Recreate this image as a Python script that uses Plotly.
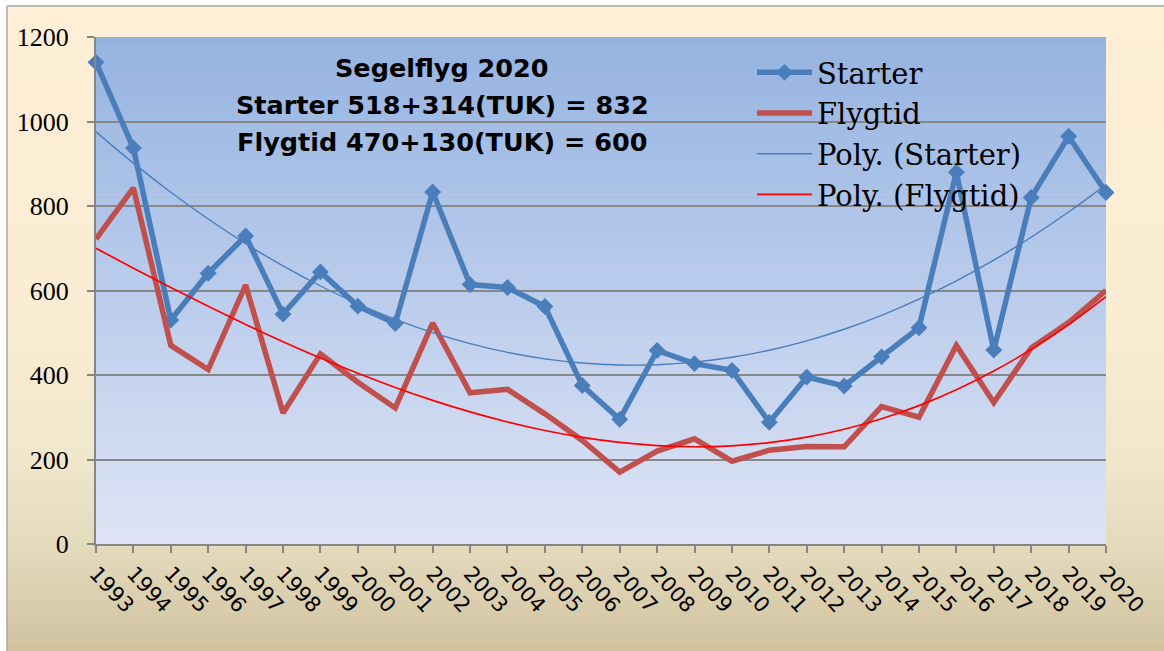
import numpy as np
import plotly.graph_objects as go

years = list(range(1993, 2021))
starter = [1140, 937, 530, 641, 729, 544, 644, 563, 522, 833, 614, 607, 562, 375,
           295, 458, 427, 411, 288, 395, 374, 443, 512, 880, 459, 820, 965, 832]
flygtid = [722, 843, 470, 413, 613, 310, 450, 383, 322, 523, 358, 366, 308, 245,
           170, 220, 249, 196, 222, 231, 230, 325, 300, 470, 335, 464, 524, 600]
tick_labels = [str(y) for y in years]
title_lines = ["Segelflyg 2020", "Starter 518+314(TUK) = 832", "Flygtid 470+130(TUK) = 600"]

# Excel-style polynomial trendlines (least squares fit of the data series)
xi = np.arange(1, len(years) + 1)
poly_starter = np.polyval(np.polyfit(xi, starter, 2), xi)
poly_flyg = np.polyval(np.polyfit(xi, flygtid, 3), xi)

W, H = 1164, 651
PL, PR, PT, PB = 96, 1106, 37, 544   # plot area in page pixels
L, R, T, B = PL, W - PR, PT, H - PB
pw, ph = PR - PL, PB - PT
CX, CY = 7, 6                        # chart-area top-left corner


def px_x(p):   # pixel -> paper x
    return (p - PL) / pw


def px_y(p):   # pixel -> paper y
    return (PB - p) / ph


def lerp_stops(stops, t):
    for (t0, c0), (t1, c1) in zip(stops[:-1], stops[1:]):
        if t0 <= t <= t1:
            f = 0 if t1 == t0 else (t - t0) / (t1 - t0)
            return tuple(round(a + (b - a) * f) for a, b in zip(c0, c1))
    return stops[-1][1]


shapes = []


def gradient(x0, x1, y0, y1, stops, n):
    for i in range(n):
        ta = y0 + (y1 - y0) * i / n
        tb = y0 + (y1 - y0) * (i + 1) / n + 0.6
        c = lerp_stops(stops, (i + 0.5) / n)
        shapes.append(dict(type="rect", xref="paper", yref="paper", layer="below",
                           x0=px_x(x0), x1=px_x(x1), y0=px_y(tb), y1=px_y(ta),
                           line=dict(width=0), fillcolor="rgb(%d,%d,%d)" % c))


outer_stops = [(0.0, (254, 239, 214)), (0.45, (250, 237, 212)), (0.7, (240, 231, 204)),
               (0.85, (226, 216, 186)), (1.0, (208, 194, 159))]
plot_stops = [(0.0, (149, 179, 224)), (0.5, (186, 204, 236)), (1.0, (222, 228, 245))]
gradient(CX, W + 2, CY, H + 2, outer_stops, 110)
gradient(PL, PR, PT, PB, plot_stops, 100)
# chart area border (top and left)
shapes.append(dict(type="line", xref="paper", yref="paper", layer="below",
                   x0=px_x(CX), x1=px_x(W + 2), y0=px_y(CY), y1=px_y(CY),
                   line=dict(color="#A6A6A6", width=1.5)))
shapes.append(dict(type="line", xref="paper", yref="paper", layer="below",
                   x0=px_x(CX), x1=px_x(CX), y0=px_y(CY), y1=px_y(H + 2),
                   line=dict(color="#A6A6A6", width=1.5)))

fig = go.Figure()
fig.add_trace(go.Scatter(x=years, y=starter, name="Starter", mode="lines+markers",
                         line=dict(color="#4A7EBB", width=5.5),
                         marker=dict(symbol="diamond", size=13, color="#4A7EBB"),
                         cliponaxis=False))
fig.add_trace(go.Scatter(x=years, y=flygtid, name="Flygtid", mode="lines",
                         line=dict(color="#C0504D", width=5.5)))
fig.add_trace(go.Scatter(x=years, y=poly_starter, name="Poly. (Starter)", mode="lines",
                         line=dict(color="#4A7EBB", width=1.4, shape="spline")))
fig.add_trace(go.Scatter(x=years, y=poly_flyg, name="Poly. (Flygtid)", mode="lines",
                         line=dict(color="#FF0000", width=1.7, shape="spline")))

annotations = []
for line, yc in zip(title_lines, [68, 105, 142]):
    annotations.append(dict(text="<b>%s</b>" % line, xref="paper", yref="paper",
                            x=px_x(442), y=px_y(yc), xanchor="center", yanchor="middle",
                            showarrow=False,
                            font=dict(family="DejaVu Sans", size=25.5, color="black")))

fig.update_layout(
    width=W, height=H,
    margin=dict(l=L, r=R, t=T, b=B, autoexpand=False),
    paper_bgcolor="white",
    plot_bgcolor="rgba(0,0,0,0)",
    shapes=shapes,
    annotations=annotations,
    showlegend=True,
    legend=dict(x=px_x(752), y=px_y(47), xanchor="left", yanchor="top",
                bgcolor="rgba(0,0,0,0)", itemwidth=55,
                font=dict(family="DejaVu Serif", size=29, color="black")),
    xaxis=dict(range=[1993, 2020], tickmode="array", tickvals=years, ticktext=tick_labels,
               tickangle=47, ticks="outside", ticklen=7, tickwidth=1.5, tickcolor="#868686",
               showline=True, linecolor="#868686", linewidth=2, showgrid=False,
               zeroline=False, automargin=False,
               tickfont=dict(family="DejaVu Sans", size=21, color="black")),
    yaxis=dict(range=[0, 1200], dtick=200, ticks="outside", ticklen=7, tickwidth=1.5,
               tickcolor="#868686", showline=True, linecolor="#868686", linewidth=2,
               showgrid=True, gridcolor="#878787", gridwidth=1.8, zeroline=False,
               automargin=False, ticklabelstandoff=13,
               tickfont=dict(family="Liberation Serif", size=26, color="black")),
)

fig.write_html("out.html",
               config={"displayModeBar": False},
               post_script="document.body.style.margin='0';"
                           "document.documentElement.style.overflow='hidden';"
                           "document.body.style.overflow='hidden';")
